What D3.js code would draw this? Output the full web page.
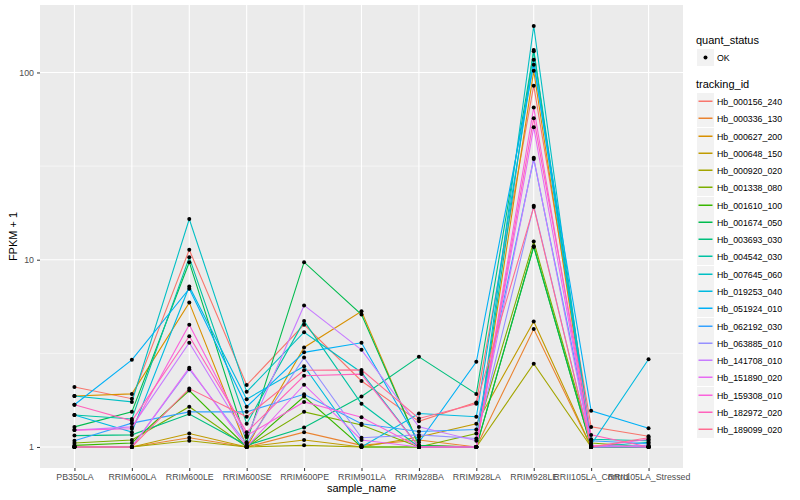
<!DOCTYPE html>
<html>
<head>
<meta charset="utf-8">
<script src="https://cdn.jsdelivr.net/npm/d3@7"></script>
<style>
body { margin: 0; background: #fff; }
text { font-family: "Liberation Sans", Arial, sans-serif; }
</style>
</head>
<body>
<script>
var w = 800;
var h = 500;

var samples = ["PB350LA","RRIM600LA","RRIM600LE","RRIM600SE","RRIM600PE","RRIM901LA",
  "RRIM928BA","RRIM928LA","RRIM928LE","RRII105LA_Control","RRII105LA_Stressed"];

var trackingIds = ["Hb_000156_240","Hb_000336_130","Hb_000627_200","Hb_000648_150","Hb_000920_020",
  "Hb_001338_080","Hb_001610_100","Hb_001674_050","Hb_003693_030","Hb_004542_030",
  "Hb_007645_060","Hb_019253_040","Hb_051924_010","Hb_062192_030","Hb_063885_010",
  "Hb_141708_010","Hb_151890_020","Hb_159308_010","Hb_182972_020","Hb_189099_020"];

var colors = ["#F8766D","#EA8331","#D89000","#C09B00","#A3A500","#7CAE00","#39B600","#00BB4E",
  "#00BF7D","#00C1A3","#00BFC4","#00BAE0","#00B0F6","#35A2FF","#9590FF","#C77CFF",
  "#E76BF3","#FA62DB","#FF62BC","#FF6C91"];

// FPKM + 1, one row per tracking id, columns follow samples
var fpkm = [
  [2.09,1.81,11.3,2.14,4.5,2.25,1.37,1.73,85,1.28,1.14],
  [1.0,1.0,1.12,1.0,1.20,1.02,1.09,1.0,4.26,1.0,1.0],
  [1.87,1.92,5.9,1.0,3.4,5.3,1.02,1.0,102,1.0,1.0],
  [1.0,1.0,1.18,1.0,1.09,1.0,1.13,1.33,4.68,1.0,1.0],
  [1.0,1.0,1.08,1.0,1.02,1.0,1.0,1.0,2.78,1.0,1.0],
  [1.05,1.09,1.64,1.0,1.54,1.31,1.0,1.18,12.5,1.05,1.0],
  [1.02,1.05,2.0,1.0,1.86,1.0,1.0,1.0,11.8,1.0,1.0],
  [1.28,1.54,9.7,1.06,9.7,5.1,1.02,1.0,11.7,1.0,1.0],
  [1.15,1.16,1.50,1.02,1.27,1.86,3.03,1.92,130,1.0,1.0],
  [1.48,1.41,10.3,1.33,4.7,1.70,1.0,1.0,132,1.10,1.08],
  [1.87,1.74,16.5,1.97,4.1,2.5,1.0,1.0,177,1.0,1.06],
  [1.48,1.20,7.2,1.80,2.7,1.0,1.51,1.45,117,1.03,2.94],
  [1.68,2.92,7.0,1.64,3.2,3.6,1.06,2.85,110,1.56,1.26],
  [1.08,1.34,1.54,1.54,1.91,1.33,1.21,1.24,34.5,1.08,1.04],
  [1.0,1.0,2.6,1.04,3.0,1.12,1.16,1.11,19.4,1.0,1.02],
  [1.23,1.28,3.6,1.13,5.7,3.3,1.28,1.08,35,1.0,1.0],
  [1.0,1.0,2.65,1.0,2.15,1.09,1.0,1.0,51,1.02,1.0],
  [1.23,1.25,4.5,1.15,1.74,1.44,1.0,1.0,65,1.0,1.10],
  [1.68,1.38,3.9,1.20,2.4,2.45,1.0,1.0,57,1.16,1.0],
  [1.0,1.0,2.05,1.45,2.57,2.58,1.42,1.70,19.1,1.0,1.12]
];

var yTicks = [1, 10, 100];
var yMinor = [Math.sqrt(10), Math.sqrt(1000)];

// panel edges (not "top": that name is taken by window.top)
var pLeft = 40, pRight = 683, pTop = 5, pBottom = 468;

var svg = d3.select("body").append("svg")
            .attr("width", w)
            .attr("height", h);

var x = d3.scalePoint().domain(samples).range([pLeft, pRight]).padding(0.6);

// log domain with ggplot style 5% expansion
var all = d3.merge(fpkm);
var lo = Math.log10(d3.min(all)), hi = Math.log10(d3.max(all));
var ex = (hi - lo) * 0.05;
var y = d3.scaleLog().domain([Math.pow(10, lo - ex), Math.pow(10, hi + ex)]).range([pBottom, pTop]);

svg.append("rect")
  .attr("x", pLeft).attr("y", pTop)
  .attr("width", pRight - pLeft).attr("height", pBottom - pTop)
  .attr("fill", "#EBEBEB");

svg.selectAll(".minor")
  .data(yMinor)
  .enter().append("line")
  .attr("x1", pLeft).attr("x2", pRight)
  .attr("y1", function(d) {return y(d);}).attr("y2", function(d) {return y(d);})
  .attr("stroke", "#fff").attr("stroke-width", 0.55);

svg.selectAll(".hgrid")
  .data(yTicks)
  .enter().append("line")
  .attr("x1", pLeft).attr("x2", pRight)
  .attr("y1", function(d) {return y(d);}).attr("y2", function(d) {return y(d);})
  .attr("stroke", "#fff").attr("stroke-width", 1.1);

svg.selectAll(".vgrid")
  .data(samples)
  .enter().append("line")
  .attr("x1", function(d) {return x(d);}).attr("x2", function(d) {return x(d);})
  .attr("y1", pTop).attr("y2", pBottom)
  .attr("stroke", "#fff").attr("stroke-width", 1.1);

// axes
var xAxis = svg.append("g")
  .attr("transform", "translate(0," + pBottom + ")")
  .call(d3.axisBottom(x).tickSize(3).tickPadding(3));
var yAxis = svg.append("g")
  .attr("transform", "translate(" + pLeft + ",0)")
  .call(d3.axisLeft(y).tickValues(yTicks).tickFormat(d3.format("d")).tickSize(3).tickPadding(3));

[xAxis, yAxis].forEach(function(g) {
  g.select(".domain").remove();
  g.selectAll(".tick line").attr("stroke", "#333333");
  g.selectAll(".tick text")
    .attr("fill", "#4D4D4D")
    .attr("font-size", 8.8)
    .attr("font-family", "Liberation Sans, Arial, sans-serif");
});

// lines
var line = d3.line()
  .x(function(d, i) {return x(samples[i]);})
  .y(function(d) {return y(d);});

svg.selectAll(".series")
  .data(fpkm)
  .enter().append("path")
  .attr("d", function(d) {return line(d);})
  .attr("fill", "none")
  .attr("stroke", function(d, i) {return colors[i];})
  .attr("stroke-width", 1.1);

// points
fpkm.forEach(function(row) {
  svg.append("g").selectAll("circle")
    .data(row)
    .enter().append("circle")
    .attr("cx", function(d, i) {return x(samples[i]);})
    .attr("cy", function(d) {return y(d);})
    .attr("r", 2)
    .attr("fill", "#000");
});

// axis titles
svg.append("text")
  .attr("x", (pLeft + pRight) / 2).attr("y", 492)
  .attr("text-anchor", "middle")
  .attr("font-size", 11)
  .text("sample_name");

svg.append("text")
  .attr("transform", "translate(17," + ((pTop + pBottom) / 2) + ") rotate(-90)")
  .attr("text-anchor", "middle")
  .attr("font-size", 11)
  .text("FPKM + 1");

// legend
var lx = 697;
svg.append("text").attr("x", lx - 1).attr("y", 44).attr("font-size", 11).text("quant_status");
svg.append("rect").attr("x", lx).attr("y", 49).attr("width", 17).attr("height", 17).attr("fill", "#F2F2F2");
svg.append("circle").attr("cx", lx + 8.5).attr("cy", 57.5).attr("r", 2).attr("fill", "#000");
svg.append("text").attr("x", lx + 20).attr("y", 60.5).attr("font-size", 8.8).text("OK");

svg.append("text").attr("x", lx - 1).attr("y", 88).attr("font-size", 11).text("tracking_id");

var keys = svg.selectAll(".key")
  .data(trackingIds)
  .enter().append("g")
  .attr("transform", function(d, i) {return "translate(" + lx + "," + (93 + Math.round(i * 17.27)) + ")";});

keys.append("rect")
  .attr("width", 17).attr("height", 17)
  .attr("fill", "#F2F2F2");
keys.append("rect")
  .attr("x", 1.5).attr("y", 7.5).attr("width", 14).attr("height", 1.5)
  .attr("fill", function(d, i) {return colors[i];});
keys.append("text")
  .text(function(d) {return d;})
  .attr("x", 20).attr("y", 11.5)
  .attr("font-size", 8.8);
</script>
</body>
</html>
